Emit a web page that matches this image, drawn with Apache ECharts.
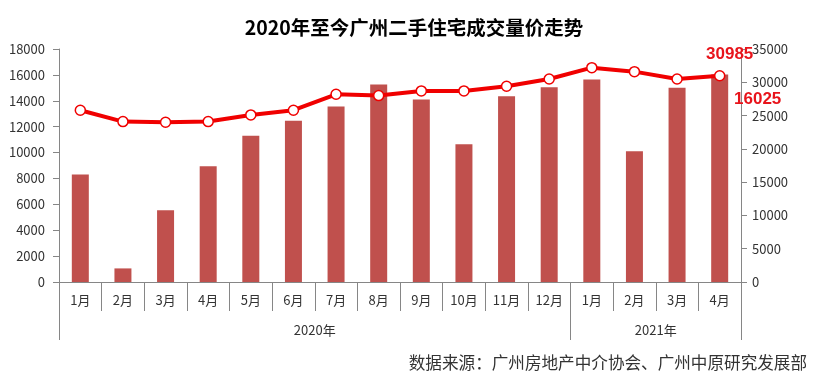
<!DOCTYPE html>
<html>
<head>
<meta charset="utf-8">
<script src="https://cdn.jsdelivr.net/npm/echarts@6/dist/echarts.min.js"></script>
<style>html,body{margin:0;padding:0;background:#fff}#c{width:828px;height:378px}</style>
</head>
<body>
<div id="c"></div>
<script>
var months = ['1月','2月','3月','4月','5月','6月','7月','8月','9月','10月','11月','12月','1月','2月','3月','4月'];
var volume = [8300, 1050, 5550, 8950, 11300, 12450, 13550, 15250, 14100, 10650, 14350, 15050, 15650, 10100, 15000, 16025];
var price  = [25800, 24100, 24000, 24100, 25100, 25800, 28200, 28000, 28700, 28700, 29400, 30500, 32200, 31600, 30500, 30985];
var yearLabels = ['2020年', '2021年'];
var yearSpans = [12, 4];
var leftTicks = [0, 18000, 2000];
var rightTicks = [0, 35000, 5000];

var bounds = [0], mids = [], acc = 0;
yearSpans.forEach(function (s) { mids.push(acc + s / 2); acc += s; bounds.push(acc); });

var font = '"Noto Sans CJK SC", "Liberation Sans", sans-serif';
var axisColor = '#868686';
var textColor = '#333';
var plain = function (v) { return String(v); };

var barData = volume.map(function (v, i) {
  if (i === volume.length - 1) {
    return { value: v, label: { show: true, position: 'top', offset: [38, 38], color: '#e8141b', fontSize: 17, fontWeight: 'bold', fontFamily: '"Liberation Sans", sans-serif' } };
  }
  return v;
});
var lineData = price.map(function (v, i) {
  if (i === price.length - 1) {
    return { value: v, label: { show: true, position: 'top', offset: [10, -2], color: '#e8141b', fontSize: 17, fontWeight: 'bold', fontFamily: '"Liberation Sans", sans-serif' } };
  }
  return v;
});

var chart = echarts.init(document.getElementById('c'));
chart.setOption({
  animation: false,
  backgroundColor: '#fff',
  title: [{
    text: '2020年至今广州二手住宅成交量价走势',
    left: 'center', top: 13,
    textStyle: { fontSize: 19.5, fontWeight: 'bold', color: '#000', fontFamily: font }
  }, {
    text: '数据来源：广州房地产中介协会、广州中原研究发展部',
    right: 16, top: 349,
    textStyle: { fontSize: 16.6, fontWeight: 'normal', color: '#333', fontFamily: font }
  }],
  grid: { left: 59, right: 87, top: 49, bottom: 96 },
  xAxis: [{
    type: 'category',
    data: months,
    position: 'bottom',
    axisLine: { lineStyle: { color: axisColor, width: 1 } },
    axisTick: { show: true, interval: 0, length: 29, lineStyle: { color: axisColor } },
    axisLabel: { interval: 0, margin: 12, color: textColor, fontSize: 13, fontFamily: font }
  }, {
    type: 'value',
    min: bounds[0], max: bounds[bounds.length - 1],
    position: 'bottom',
    axisLine: { show: false },
    splitLine: { show: false },
    axisTick: { show: true, length: 58, customValues: bounds, lineStyle: { color: axisColor } },
    axisLabel: {
      margin: 42, color: textColor, fontSize: 13, fontFamily: font,
      customValues: mids,
      formatter: function (v) { var i = mids.indexOf(v); return i >= 0 ? yearLabels[i] : ''; }
    }
  }],
  yAxis: [{
    type: 'value',
    min: leftTicks[0], max: leftTicks[1], interval: leftTicks[2],
    axisLine: { show: true, lineStyle: { color: axisColor } },
    axisTick: { show: true, length: 6, lineStyle: { color: axisColor } },
    splitLine: { show: false },
    axisLabel: { margin: 14, color: textColor, fontSize: 13, fontFamily: font, formatter: plain }
  }, {
    type: 'value',
    min: rightTicks[0], max: rightTicks[1], interval: rightTicks[2],
    position: 'right',
    axisLine: { show: true, lineStyle: { color: axisColor } },
    axisTick: { show: true, length: 6, lineStyle: { color: axisColor } },
    splitLine: { show: false },
    axisLabel: { margin: 11, color: textColor, fontSize: 13, fontFamily: font, formatter: plain }
  }],
  series: [{
    type: 'bar',
    name: '成交量',
    data: barData,
    xAxisIndex: 0, yAxisIndex: 0,
    barWidth: 17,
    itemStyle: { color: '#c0504d' }
  }, {
    type: 'line',
    name: '成交价',
    data: lineData,
    xAxisIndex: 0, yAxisIndex: 1,
    symbol: 'circle', symbolSize: 10,
    lineStyle: { color: '#f00000', width: 4 },
    itemStyle: { color: '#fff', borderColor: '#f00000', borderWidth: 1.5 },
    z: 5
  }]
});
</script>
</body>
</html>
